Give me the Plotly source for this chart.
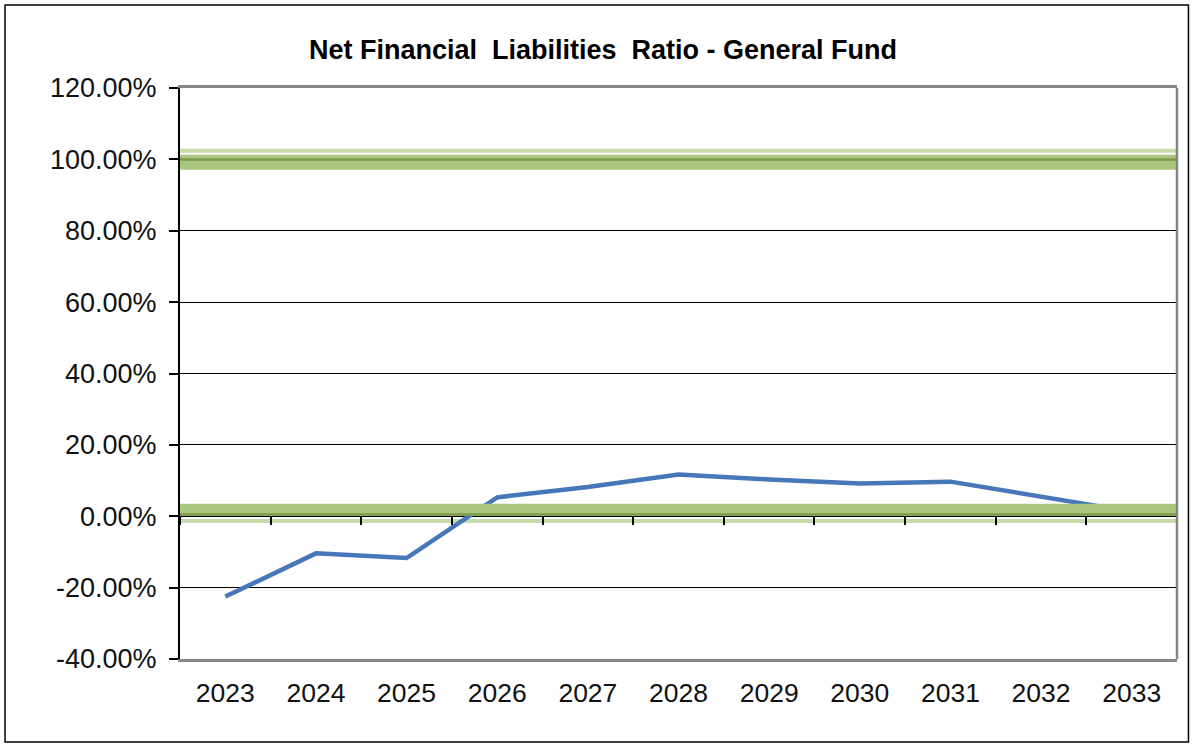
import plotly.graph_objects as go

years = ["2023", "2024", "2025", "2026", "2027", "2028", "2029", "2030", "2031", "2032", "2033"]
ratio = [-22.5, -10.4, -11.7, 5.3, 8.2, 11.7, 10.3, 9.2, 9.7, 5.6, 1.3]
y_ticks = [-40, -20, 0, 20, 40, 60, 80, 100, 120]
target_levels = [100, 0]

fig = go.Figure()

fig.add_trace(go.Scatter(
    x=years, y=ratio, mode="lines",
    line=dict(color="#4677b8", width=4.5),
    showlegend=False, hoverinfo="skip",
))
# invisible trace to realise the axis crossing at zero (tick marks between categories)
fig.add_trace(go.Scatter(
    x=years, y=[None] * len(years), xaxis="x2", mode="lines",
    showlegend=False, hoverinfo="skip",
))

shapes = []
# green target bands (upper limit 100%, lower limit 0%)
band_specs = {
    100: [(102.4, 4, "#c7dcaa", "above"), (99.2, 15, "#abc67f", "above"), (100.0, 2.5, "#7d9a47", "above")],
    0: [(-1.3, 4, "#c7dcaa", "between"), (1.8, 12, "#abc67f", "above"), (0.5, 2.5, "#7d9a47", "above")],
}
for lvl in target_levels:
    for yv, w, c, layer in band_specs[lvl]:
        shapes.append(dict(type="line", xref="paper", yref="y", x0=0, x1=1,
                           y0=yv, y1=yv, line=dict(color=c, width=w), layer=layer))
# right border of plot area
shapes.append(dict(type="line", xref="paper", yref="paper", x0=1, x1=1, y0=0, y1=1,
                   line=dict(color="#868686", width=2.5), layer="above"))
# outer chart border
shapes.append(dict(type="rect", xref="paper", yref="paper",
                   x0=-0.1755, x1=1.0115, y0=-0.1454, y1=1.1454,
                   line=dict(color="#000000", width=1.5), layer="above"))

fig.update_layout(
    width=1195, height=744,
    margin=dict(l=180, r=18, t=88, b=85),
    paper_bgcolor="white", plot_bgcolor="white",
    font=dict(family="Liberation Sans, Arial, sans-serif", color="#111111", size=26),
    title=dict(
        text="<b>Net Financial\u00a0\u00a0Liabilities\u00a0\u00a0Ratio - General\u00a0Fund</b>",
        x=0.5046, xanchor="center", y=0.934, yanchor="middle",
        xref="container", yref="container",
        font=dict(size=27, family="Liberation Sans, Arial, sans-serif", color="#000000"),
    ),
    xaxis=dict(
        type="category", categoryorder="array", categoryarray=years,
        showgrid=False, showline=True, linecolor="#868686", linewidth=2.5, mirror=True,
        ticks="", tickfont=dict(size=26.5), ticklabelstandoff=8,
        range=[-0.5, 10.5], zeroline=False,
    ),
    xaxis2=dict(
        type="category", categoryorder="array", categoryarray=years,
        overlaying="x", matches="x", anchor="free", position=0.25,
        showgrid=False, showline=False, showticklabels=False,
        ticks="outside", ticklen=8, tickwidth=1.5, tickcolor="#000000",
        tickson="boundaries", zeroline=False,
    ),
    yaxis=dict(
        range=[-40, 120], tickvals=y_ticks,
        ticktext=[f"{v:.2f}%" for v in y_ticks],
        showgrid=True, gridcolor="#000000", gridwidth=1,
        showline=True, linecolor="#000000", linewidth=2,
        ticks="outside", ticklen=9, tickwidth=1.5, tickcolor="#000000",
        tickfont=dict(size=27), ticklabelstandoff=7, zeroline=False,
    ),
    shapes=shapes,
)

fig.write_html("out.html")
